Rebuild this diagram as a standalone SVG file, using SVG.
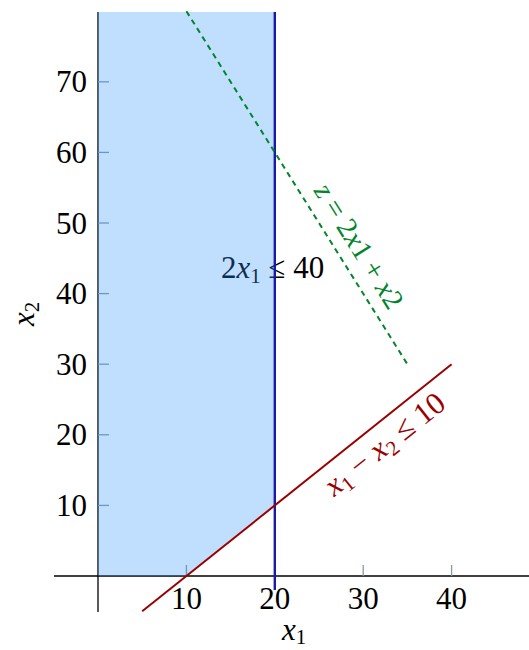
<svg xmlns="http://www.w3.org/2000/svg" width="529" height="650" viewBox="0 0 529 650">
<style>
  text { font-family: "Liberation Serif", "Times New Roman", serif; font-size: 31px; fill: #000; }
  .tick { stroke: #8a97a6; stroke-width: 1.3; }
  .axis { stroke: #000; stroke-width: 1.3; fill: none; }
  .it { font-style: italic; }
  .sub { font-size: 21px; }
</style>
<rect width="529" height="650" fill="#fff"/>
<g id="axes">
  <line class="axis" x1="54" y1="576" x2="529" y2="576"/>
  <line class="axis" x1="98" y1="12" x2="98" y2="612"/>
  <line class="tick" x1="186.4" y1="576" x2="186.4" y2="565"/>
  <line class="tick" x1="274.8" y1="576" x2="274.8" y2="565"/>
  <line class="tick" x1="363.2" y1="576" x2="363.2" y2="565"/>
  <line class="tick" x1="451.6" y1="576" x2="451.6" y2="565"/>
  <line class="tick" x1="98" y1="505.4" x2="109" y2="505.4"/>
  <line class="tick" x1="98" y1="434.8" x2="109" y2="434.8"/>
  <line class="tick" x1="98" y1="364.2" x2="109" y2="364.2"/>
  <line class="tick" x1="98" y1="293.6" x2="109" y2="293.6"/>
  <line class="tick" x1="98" y1="223" x2="109" y2="223"/>
  <line class="tick" x1="98" y1="152.4" x2="109" y2="152.4"/>
  <line class="tick" x1="98" y1="81.8" x2="109" y2="81.8"/>
</g>
<g id="tick-labels">
  <g text-anchor="middle">
    <text x="186.4" y="608.5">10</text>
    <text x="274.8" y="608.5">20</text>
    <text x="363.2" y="608.5">30</text>
    <text x="451.6" y="608.5">40</text>
  </g>
  <g text-anchor="end">
    <text x="87" y="516">10</text>
    <text x="87" y="445.3">20</text>
    <text x="87" y="374.7">30</text>
    <text x="87" y="304.1">40</text>
    <text x="87" y="233.5">50</text>
    <text x="87" y="162.9">60</text>
    <text x="87" y="92.3">70</text>
  </g>
</g>
<g id="axis-labels">
  <text x="282" y="640"><tspan class="it">x</tspan><tspan class="sub" dy="4">1</tspan></text>
  <text transform="translate(34,326) rotate(-90)"><tspan class="it">x</tspan><tspan class="sub" dy="5">2</tspan></text>
</g>
<g id="label-x1-constraint">
  <text x="221" y="278">2<tspan class="it">x</tspan><tspan class="sub" dy="5">1</tspan><tspan dy="-5"> ≤ 40</tspan></text>
</g>
<g id="feasible-region">
  <polygon points="98,576 186.4,576 274.8,505.4 274.8,12 98,12" fill="#2d94ff" fill-opacity="0.3"/>
</g>
<g id="connectors">
  <line id="line-x1-20" x1="274.8" y1="12" x2="274.8" y2="590" stroke="#1a1aa6" stroke-width="2.4"/>
  <line id="line-x1-minus-x2" x1="142.2" y1="611.3" x2="451.6" y2="364.2" stroke="#990000" stroke-width="2"/>
  <line id="line-objective" x1="186.4" y1="11.2" x2="407.4" y2="364.2" stroke="#00852a" stroke-width="2" stroke-dasharray="5.5 4.5"/>
</g>
<g id="label-objective">
  <text transform="translate(351,251) rotate(57.9)" text-anchor="middle" style="fill:#00852a;font-size:29px"><tspan class="it">z</tspan> = 2<tspan class="it">x</tspan>1 + <tspan class="it">x</tspan>2</text>
</g>
<g id="label-x1-minus-x2">
  <text transform="translate(391,452) rotate(-38.6)" text-anchor="middle" style="fill:#990000"><tspan class="it">x</tspan><tspan class="sub" dy="5">1</tspan><tspan dy="-5"> − </tspan><tspan class="it">x</tspan><tspan class="sub" dy="5">2</tspan><tspan dy="-5"> ≤ 10</tspan></text>
</g>
</svg>
